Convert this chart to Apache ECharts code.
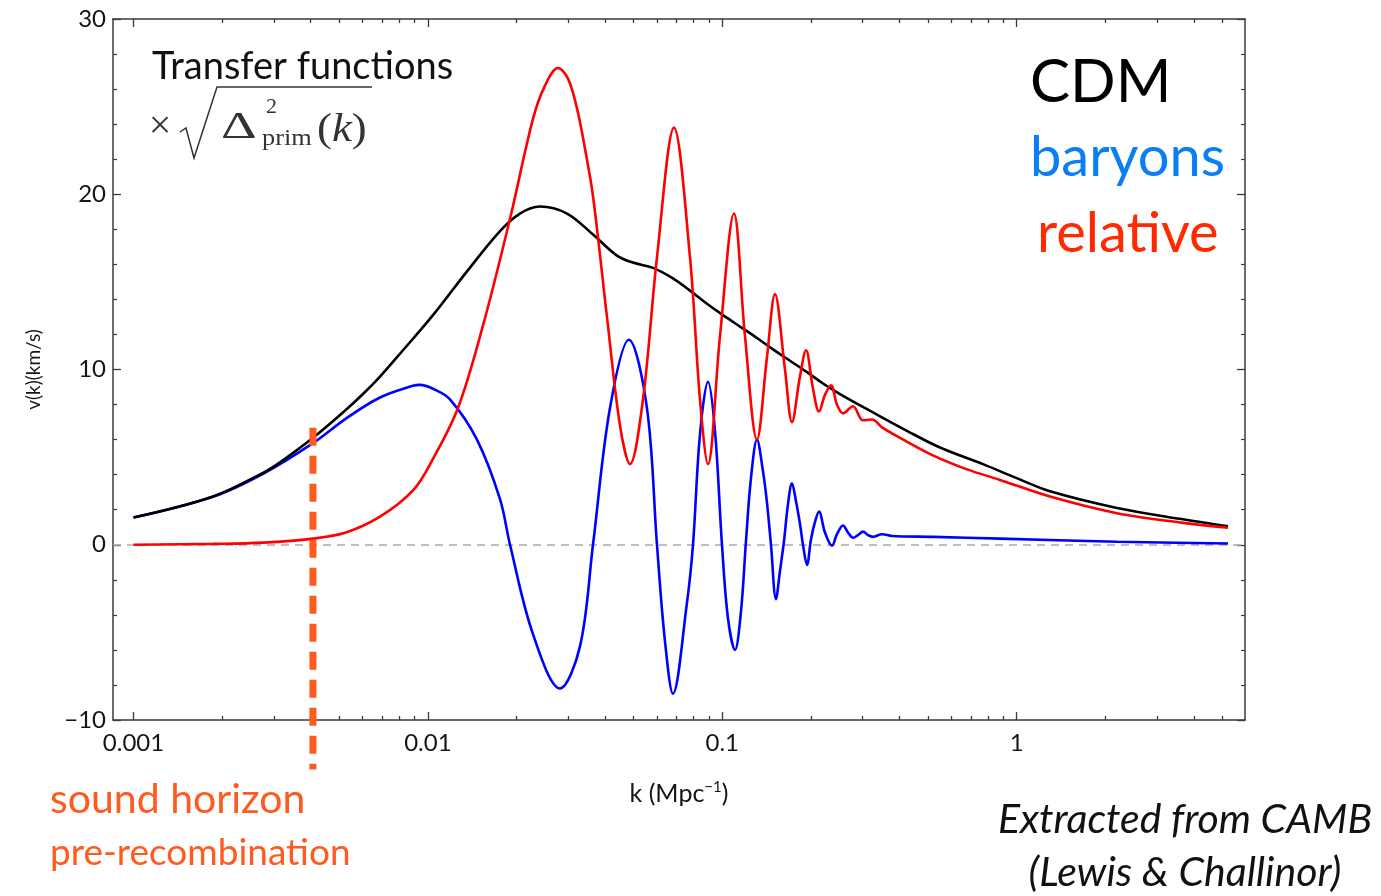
<!DOCTYPE html>
<html><head><meta charset="utf-8">
<script src="https://cdn.jsdelivr.net/npm/echarts@6/dist/echarts.min.js"></script>
<style>html,body{margin:0;padding:0;background:#fff}#c{width:1381px;height:896px}</style>
</head><body><div id="c"></div>
<script>
// ---- data (k in Mpc^-1, v in km/s) ----
const kCDM = [0.001,0.001862,0.002753,0.003145,0.004071,0.005269,0.006019,0.006877,0.008040,0.010407,0.013580,0.017579,0.020551,0.024030,0.029690,0.036376,0.043870,0.049730,0.058150,0.068000,0.077678,0.088720,0.100600,0.114800,0.131170,0.148700,0.169800,0.193960,0.219800,0.251100,0.325040,0.424000,0.548900,0.768300,1.0,1.297600,2.191200,3.671600,5.221100];
const vCDM = [1.55,2.75,4.1,4.7,6.1,7.7,8.6,9.6,10.9,13.1,15.6,17.9,18.9,19.3,18.9,17.7,16.5,16.1,15.8,15.2,14.5,13.75,13.1,12.45,11.8,11.15,10.5,9.85,9.2,8.6,7.55,6.5,5.55,4.6,3.8,3.05,2.1,1.45,1.05];

const kBaryon = [0.001,0.001862,0.002753,0.004071,0.005269,0.006877,0.008901,0.009401,0.010407,0.011886,0.014680,0.017579,0.019009,0.022751,0.028103,0.032860,0.036376,0.041547,0.048197,0.055481,0.060004,0.063874,0.067996,0.075874,0.079522,0.083991,0.089410,0.094452,0.099765,0.10456,0.11044,0.11575,0.12036,0.12516,0.13117,0.13747,0.14184,0.14635,0.15219,0.15703,0.16202,0.16716,0.17246,0.17794,0.18359,0.18795,0.19396,0.20013,0.20649,0.21305,0.22328,0.23585,0.24519,0.25704,0.26730,0.27796,0.28905,0.30058,0.31257,0.32504,0.34877,0.37713,0.51954,0.87779,2.1912,5.2211];
const vBaryon = [1.55,2.74,4.05,5.8,7.2,8.4,9.07,9.12,8.9,8.3,6.0,2.6,0,-5.1,-8.2,-5.8,0,7.8,11.7,7.8,0,-5.5,-8.5,-3.3,0,6.3,9.3,6.5,0,-4.2,-6.0,-3.8,0.2,3.8,6.0,4.2,2.4,0,-3.1,-1.5,0.2,2.3,3.5,2.5,1.2,0,-1.15,0.3,1.3,1.9,0.7,-0.05,0.6,1.1,0.7,0.4,0.55,0.75,0.55,0.45,0.6,0.5,0.45,0.35,0.17,0.07];

const kRelative = [0.001,0.001862,0.002753,0.004071,0.005269,0.006877,0.008901,0.010407,0.012652,0.015384,0.019009,0.022751,0.024993,0.027667,0.029914,0.032097,0.034172,0.036376,0.040582,0.044938,0.048580,0.053781,0.060004,0.068531,0.077678,0.083991,0.089410,0.098218,0.10958,0.11943,0.13117,0.14184,0.15101,0.16329,0.17246,0.18359,0.19245,0.20329,0.21305,0.22328,0.23401,0.24519,0.25704,0.27796,0.30058,0.32251,0.34877,0.40140,0.51954,0.67788,0.87779,1.2976,2.1912,3.6716,5.2211];
const vRelative = [0,0.05,0.12,0.35,0.7,1.6,3.1,4.9,7.8,12.5,18.6,24.3,26.2,27.2,26.6,24.9,22.6,19.9,13.0,6.8,4.6,8.3,16.4,23.8,16.4,8.3,4.6,11.9,18.9,11.9,6.0,10.7,14.3,10.0,7.0,9.6,11.1,8.9,7.6,8.55,9.1,8.0,7.5,7.9,7.1,7.15,6.7,6.1,5.1,4.3,3.7,2.75,1.8,1.25,0.97];

const soundHorizonK = 0.00407;
const soundHorizonV = [6.67, -12.83];

const xMajorTicks = [0.001, 0.01, 0.1, 1];
const xMinorTicks = [0.002,0.003,0.004,0.005,0.006,0.007,0.008,0.009,0.02,0.03,0.04,0.05,0.06,0.07,0.08,0.09,0.2,0.3,0.4,0.5,0.6,0.7,0.8,0.9,2,3,4,5];
const yTickLabels = [-10, 0, 10, 20, 30];

// ---- chart ----
const zip = (ks, vs) => ks.map((k, i) => [k, vs[i]]);
const X_MIN = 0.000852, X_MAX = 5.964;
const frame = {color: '#3a3a3a', width: 1.5};
const tickStyle = {color: '#3a3a3a', width: 1.3};

function xAx(pos, ticks, len, showLine, showLabel) {
  return {
    type: 'log', logBase: 10, position: pos, min: X_MIN, max: X_MAX,
    axisLine: {show: showLine, onZero: false, lineStyle: frame},
    axisTick: {show: true, inside: true, length: len, customValues: ticks, lineStyle: tickStyle},
    axisLabel: showLabel ? {show: true, customValues: ticks, formatter: v => String(+(+v).toPrecision(3)), fontSize: 24, color: '#151515', fontFamily: 'Lato', margin: 11} : {show: false},
    splitLine: {show: false}, minorTick: {show: false}
  };
}
function yAx(pos, showLabel) {
  return {
    type: 'value', position: pos, min: -10, max: 30, interval: 10,
    axisLine: {show: true, onZero: false, lineStyle: frame},
    axisTick: {show: true, inside: true, length: 8, lineStyle: tickStyle},
    minorTick: {show: true, splitNumber: 5, length: 4, lineStyle: {color: '#3a3a3a', width: 1.2}},
    axisLabel: showLabel ? {show: true, formatter: v => (v < 0 ? '\u2212' + Math.abs(v) : String(v)), fontSize: 24, color: '#151515', fontFamily: 'Lato', margin: 7,
      customValues: yTickLabels} : {show: false},
    splitLine: {show: false}
  };
}

const xAxes = [xAx('bottom', xMajorTicks, 8, true, true), xAx('bottom', xMinorTicks, 4, false, false), xAx('top', xMajorTicks, 8, true, false), xAx('top', xMinorTicks, 4, false, false)];
xAxes[0].name = 'k (Mpc{s|\u22121})';
xAxes[0].nameLocation = 'middle';
xAxes[0].nameGap = 60;
xAxes[0].nameTextStyle = {fontSize: 25, color: '#151515', fontFamily: 'Lato', lineHeight: 28, rich: {s: {fontSize: 15, verticalAlign: 'top', lineHeight: 28, fontFamily: 'Lato', color: '#151515'}}};

const yAxes = [yAx('left', true), yAx('right', false)];
yAxes[0].name = 'v(k)(km/s)';
yAxes[0].nameLocation = 'middle';
yAxes[0].nameGap = 70;
yAxes[0].nameTextStyle = {fontSize: 19, color: '#151515', fontFamily: 'Lato'};

const chart = echarts.init(document.getElementById('c'), null, {renderer: 'canvas'});
chart.setOption({
  animation: false,
  backgroundColor: '#fff',
  textStyle: {fontFamily: 'Lato'},
  grid: {left: 113, right: 136, top: 19, bottom: 176, containLabel: false},
  xAxis: xAxes,
  yAxis: yAxes,
  series: [
    {name: 'baryons', type: 'line', xAxisIndex: 0, yAxisIndex: 0, data: zip(kBaryon, vBaryon), smooth: 0.35, symbol: 'none',
      lineStyle: {color: '#0000ff', width: 2.6}, z: 3,
      markLine: {silent: true, symbol: 'none', label: {show: false}, lineStyle: {color: '#aaaaaa', width: 1.5, type: [8, 6]}, data: [{yAxis: 0}], z: 1}},
    {name: 'CDM', type: 'line', xAxisIndex: 0, yAxisIndex: 0, data: zip(kCDM, vCDM), smooth: 0.35, symbol: 'none',
      lineStyle: {color: '#000000', width: 2.6}, z: 4},
    {name: 'relative', type: 'line', xAxisIndex: 0, yAxisIndex: 0, data: zip(kRelative, vRelative), smooth: 0.35, symbol: 'none',
      lineStyle: {color: '#ff0000', width: 2.6}, z: 5},
    {name: 'sound horizon', type: 'line', xAxisIndex: 0, yAxisIndex: 0, clip: false,
      data: soundHorizonV.map(v => [soundHorizonK, v]), symbol: 'none',
      lineStyle: {color: '#ff5a1f', width: 7, type: [18, 10]}, z: 10}
  ],
  graphic: [
    {type: 'text', x: 152, y: 67, style: {text: 'Transfer functions', font: '38px Lato', fill: '#111', align: 'left', verticalAlign: 'middle'}},
    {type: 'text', x: 160, y: 127, style: {text: '\u00d7', font: '40px "Liberation Serif"', fill: '#333', align: 'center', verticalAlign: 'middle'}},
    {type: 'polyline', shape: {points: [[180, 132], [186, 128], [194, 158], [217, 87], [372, 87]]}, style: {stroke: '#333', lineWidth: 1.5, fill: null}},
    {type: 'text', x: 221, y: 128, scaleX: 1.5, style: {text: '\u0394', font: '37px "Liberation Serif"', fill: '#333', align: 'left', verticalAlign: 'middle'}},
    {type: 'text', x: 266, y: 107, style: {text: '2', font: '22px "Liberation Serif"', fill: '#333', align: 'left', verticalAlign: 'middle'}},
    {type: 'text', x: 262, y: 139, scaleX: 1.1, style: {text: 'prim', font: '24px "Liberation Serif"', fill: '#333', align: 'left', verticalAlign: 'middle'}},
    {type: 'text', x: 317, y: 130, scaleX: 1.12, style: {text: '({i|k})', font: '40px "Liberation Serif"', fill: '#333', align: 'left', verticalAlign: 'middle',
      rich: {i: {font: 'italic 40px "Liberation Serif"', fill: '#333'}}}},
    {type: 'text', x: 1030, y: 83, style: {text: 'CDM', font: '60px Lato', fill: '#000', align: 'left', verticalAlign: 'middle'}},
    {type: 'text', x: 1030, y: 158, style: {text: 'baryons', font: '56px Lato', fill: '#0a7ef5', align: 'left', verticalAlign: 'middle'}},
    {type: 'text', x: 1037, y: 234, style: {text: 'relative', font: '56px Lato', fill: '#ff2a00', align: 'left', verticalAlign: 'middle'}},
    {type: 'text', x: 50, y: 800, style: {text: 'sound horizon', font: '41px Lato', fill: '#ff5a1f', align: 'left', verticalAlign: 'middle'}},
    {type: 'text', x: 50, y: 853, style: {text: 'pre-recombination', font: '37px Lato', fill: '#ff5a1f', align: 'left', verticalAlign: 'middle'}},
    {type: 'text', x: 1185, y: 820, style: {text: 'Extracted from CAMB', font: 'italic 41px Lato', fill: '#111', align: 'center', verticalAlign: 'middle'}},
    {type: 'text', x: 1185, y: 873, style: {text: '(Lewis & Challinor)', font: 'italic 41px Lato', fill: '#111', align: 'center', verticalAlign: 'middle'}}
  ]
});
</script>
</body></html>
